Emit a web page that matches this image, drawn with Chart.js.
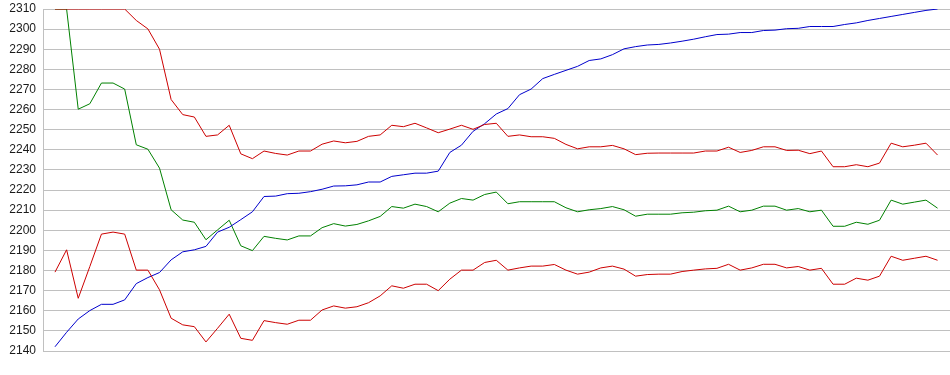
<!DOCTYPE html>
<html>
<head>
<meta charset="utf-8">
<script src="https://cdn.jsdelivr.net/npm/chart.js@4/dist/chart.umd.min.js"></script>
<style>
  html, body { margin: 0; padding: 0; background: #ffffff; }
  #wrap { width: 950px; height: 375px; }
</style>
</head>
<body>
<div id="wrap"><canvas id="c" width="950" height="375"></canvas></div>
<script>
// x positions (bar/period index)
const categories = Array.from({ length: 77 }, (_, i) => i);

// y-axis tick values
const yTicks = [2140, 2150, 2160, 2170, 2180, 2190, 2200, 2210, 2220, 2230, 2240, 2250, 2260, 2270, 2280, 2290, 2300, 2310];

// upper band (red)
const upperBand = [
  2310, 2310, 2310, 2310, 2310, 2310, 2310, 2304.3, 2300.1, 2290, 2265, 2257.5, 2256.3,
  2246.7, 2247.4, 2252.2, 2238, 2235.6, 2239.4, 2238.2, 2237.4, 2239.4, 2239.4, 2242.8, 2244.4, 2243.5,
  2244.2, 2246.7, 2247.4, 2252.2, 2251.5, 2253.2, 2250.9, 2248.5, 2250.3, 2252.2, 2250.2, 2252.6, 2253.2,
  2246.7, 2247.4, 2246.5, 2246.5, 2245.7, 2242.7, 2240.5, 2241.5, 2241.5, 2242.2, 2240.5, 2237.6, 2238.3,
  2238.4, 2238.4, 2238.4, 2238.4, 2239.4, 2239.4, 2241.3, 2238.7, 2239.7, 2241.5, 2241.5, 2239.7, 2239.8,
  2238.1, 2239.4, 2231.6, 2231.6, 2232.6, 2231.6, 2233.4, 2243.3, 2241.5, 2242.3, 2243.3, 2237.4
];

// middle band (green)
const middleBand = [
  2310, 2310, 2260.2, 2262.9, 2273.2, 2273.2, 2270.2, 2242.5, 2240.3, 2230.9, 2210.2, 2205.1, 2204,
  2195.3, 2200.2, 2205, 2192.3, 2189.9, 2197, 2196, 2195.2, 2197.2, 2197.2, 2201.3, 2203.3, 2202.1,
  2202.9, 2204.7, 2206.9, 2211.8, 2211, 2213, 2211.8, 2209.2, 2213.5, 2215.8, 2215, 2217.8, 2219,
  2213.2, 2214.2, 2214.2, 2214.2, 2214.2, 2211.2, 2209.2, 2210.2, 2210.8, 2211.8, 2210.2, 2207, 2208,
  2208, 2208, 2208.7, 2209, 2209.7, 2210, 2212, 2209.2, 2210, 2212, 2212, 2210, 2210.8,
  2209.2, 2210, 2202, 2202, 2204, 2203, 2205, 2215, 2213, 2214, 2215, 2211
];

// lower band (red)
const lowerBand = [
  2179.2, 2190.3, 2166.2, 2182, 2198.1, 2199.1, 2198.1, 2180.2, 2180.2, 2170.4, 2156.3, 2153, 2152.1,
  2144.5, 2151.3, 2158.3, 2146.3, 2145.3, 2155.1, 2154.1, 2153.3, 2155.3, 2155.3, 2160.4, 2162.4, 2161.3,
  2162, 2164, 2167.4, 2172.4, 2171.2, 2173.2, 2173.2, 2170, 2175.7, 2180.2, 2180.2, 2184, 2185.1,
  2180.2, 2181.3, 2182.2, 2182.2, 2183, 2180.2, 2178.2, 2179.2, 2181.3, 2182.2, 2180.7, 2177.2, 2178,
  2178.2, 2178.2, 2179.5, 2180.2, 2180.8, 2181.1, 2183.1, 2180.2, 2181.3, 2183.1, 2183.1, 2181.3, 2182,
  2180.2, 2181.1, 2173.2, 2173.2, 2176.2, 2175.2, 2177.2, 2187.1, 2185.1, 2186.1, 2187.1, 2185.1
];

// price line (blue)
const priceLine = [
  2142.1, 2149.3, 2155.9, 2160.1, 2163.2, 2163.2, 2165.4, 2173.5, 2176.5, 2179, 2185.3, 2189.3, 2190.3,
  2192, 2199.1, 2201.5, 2205.3, 2209.2, 2216.8, 2217, 2218.2, 2218.4, 2219.2, 2220.4, 2222, 2222.1,
  2222.6, 2224, 2224, 2226.8, 2227.6, 2228.4, 2228.4, 2229.4, 2238.7, 2242.3, 2249.2, 2253, 2257.8,
  2260.5, 2267.4, 2270.2, 2275.4, 2277.5, 2279.5, 2281.5, 2284.4, 2285.2, 2287.3, 2290.2, 2291.3, 2292.1,
  2292.4, 2293.1, 2294, 2295, 2296.2, 2297.3, 2297.5, 2298.3, 2298.3, 2299.3, 2299.5, 2300.2, 2300.4,
  2301.3, 2301.3, 2301.3, 2302.3, 2303.1, 2304.3, 2305.3, 2306.3, 2307.3, 2308.3, 2309.3, 2310
];

function ds(label, values, color) {
  return {
    label: label,
    data: values,
    borderColor: color,
    backgroundColor: color,
    borderWidth: 1,
    pointRadius: 0,
    pointHoverRadius: 0,
    tension: 0,
    fill: false
  };
}

new Chart(document.getElementById('c'), {
  type: 'line',
  data: {
    labels: categories,
    datasets: [
      ds('Upper', upperBand, '#cc0000'),
      ds('Lower', lowerBand, '#cc0000'),
      ds('Price', priceLine, '#0000cc'),
      ds('Middle', middleBand, '#008000')
    ]
  },
  options: {
    responsive: false,
    animation: false,
    events: [],
    layout: { padding: { top: 9, bottom: 24, left: 0, right: 0 } },
    plugins: { legend: { display: false }, tooltip: { enabled: false } },
    scales: {
      x: {
        type: 'linear',
        display: false,
        min: -1.033,
        max: 77.07
      },
      y: {
        type: 'linear',
        min: yTicks[0],
        max: yTicks[yTicks.length - 1],
        afterFit: (s) => { s.width = 43; s.paddingTop = 0; s.paddingBottom = 0; },
        afterBuildTicks: (s) => { s.ticks = yTicks.map(v => ({ value: v })); },
        grid: { color: '#c0c0c0', lineWidth: 1, drawTicks: false },
        border: { display: true, color: '#c0c0c0', width: 1 },
        ticks: {
          padding: 7,
          color: '#1a1a1a',
          font: { family: "'Liberation Sans', Arial, sans-serif", size: 12 },
          callback: (v) => String(v)
        }
      }
    }
  }
});
</script>
</body>
</html>
